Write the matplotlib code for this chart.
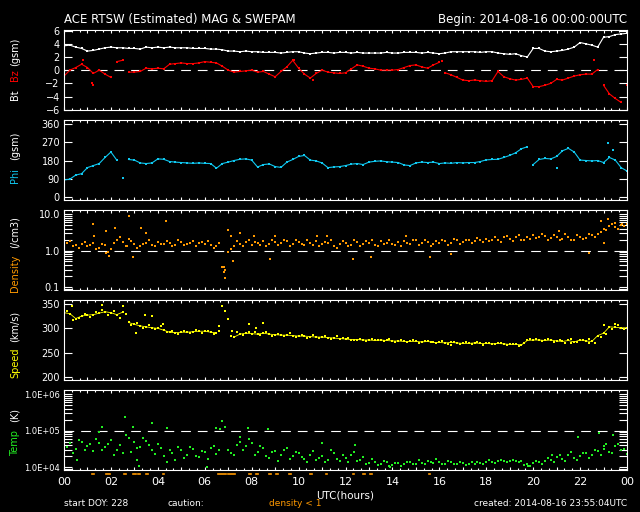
import numpy as np
import matplotlib
matplotlib.use("Agg")
import matplotlib.pyplot as plt
from matplotlib.ticker import MultipleLocator, FixedLocator, LogLocator, NullFormatter, FuncFormatter

plt.rcParams['font.family'] = ['DejaVu Sans']
plt.rcParams['lines.scale_dashes'] = False

# 15-minute samples, 00 UTC to 24 UTC, plus a second set half-way between
hours = np.arange(97) * 0.25
hours_mid = np.arange(96) * 0.25 + 0.125

bt = [3.7, 3.8, 3.5, 3.3, 2.9, 3.0, 3.2, 3.4, 3.5, 3.4, 3.4, 3.3, 3.3, 3.2, 3.5, 3.4,
      3.5, 3.4, 3.5, 3.4, 3.4, 3.4, 3.3, 3.3, 3.3, 3.2, 3.2, 3.1, 2.9, 2.9, 2.8, 2.9,
      2.8, 2.8, 2.7, 2.7, 2.7, 2.6, 2.7, 2.8, 2.8, 2.6, 2.5, 2.6, 2.7, 2.7, 2.6, 2.7,
      2.7, 2.6, 2.7, 2.6, 2.6, 2.6, 2.6, 2.7, 2.6, 2.6, 2.7, 2.7, 2.7, 2.6, 2.7, 2.6,
      2.5, 2.6, 2.8, 2.8, 2.8, 2.8, 2.8, 2.7, 2.8, 2.8, 2.6, 2.5, 2.4, 2.5, 2.2, 2.0,
      3.3, 3.3, 2.9, 2.8, 2.9, 3.0, 3.2, 3.5, 4.2, 4.0, 3.8, 3.5, 5.0, 5.1, 5.4, 5.5, 5.6]

bz = [-0.9, 0.0, 0.4, 0.9, 0.4, -0.5, 0.0, -0.6, -1.1, 1.3, 1.5, -0.3, -0.3, -0.2, 0.3, 0.2,
      0.3, 0.2, 0.9, 1.0, 1.1, 1.0, 1.0, 1.1, 1.3, 1.2, 1.1, 0.6, 0.0, -0.3, -0.2, -0.1,
      0.0, -0.3, -0.2, -0.6, -1.0, -0.2, 0.5, 1.5, 0.3, -0.6, -1.2, -0.5, 0.0, -0.3, -0.4, -0.5,
      -0.4, 0.2, 0.8, 0.6, 0.3, 0.2, 0.0, 0.0, 0.0, 0.1, 0.4, 0.7, 0.8, 0.5, 0.3, 0.8,
      1.2, -0.4, -0.7, -1.1, -1.5, -1.6, -1.5, -1.6, -1.7, -1.6, -0.2, -1.0, -1.3, -1.5, -1.4, -1.2,
      -2.5, -2.5, -2.3, -2.0, -1.4, -1.5, -1.2, -0.9, -0.7, -0.6, -0.6, 0.1, -2.3, -3.6, -4.3, -4.9, -2.2]
bz_extra_t = [0.8, 1.2, 1.25, 9.8, 22.6, 16.1, 10.6]
bz_extra_v = [1.6, -2.0, -2.2, 1.6, 1.5, 1.4, -1.5]

phi = [84, 88, 108, 115, 145, 155, 165, 195, 222, 182, 95, 185, 182, 168, 165, 168,
       188, 186, 175, 172, 170, 168, 166, 168, 166, 165, 142, 165, 172, 180, 186, 188,
       182, 148, 160, 163, 150, 146, 172, 185, 200, 205, 182, 178, 168, 145, 148, 150,
       155, 162, 165, 160, 172, 176, 178, 174, 172, 170, 158, 155, 168, 172, 170, 172,
       165, 168, 166, 170, 168, 170, 170, 175, 183, 185, 186, 195, 205, 218, 238, 248,
       160, 185, 190, 188, 200, 228, 240, 222, 182, 180, 178, 180, 170, 195, 182, 145, 128]
phi_extra_t = [23.2, 23.4, 21.0]
phi_extra_v = [265, 232, 142]

density = [2.0, 1.8, 1.4, 1.5, 1.3, 1.6, 1.2, 1.4, 1.1, 1.9, 1.7, 2.1, 1.5, 1.3, 1.6, 1.4,
           1.7, 1.5, 1.6, 1.4, 1.7, 1.5, 1.8, 1.6, 1.5, 1.4, 1.3, 0.35, 0.9, 1.3, 1.5, 1.7,
           1.4, 1.6, 1.8, 1.5, 1.7, 1.6, 1.8, 1.5, 1.7, 1.4, 1.6, 1.8, 1.5, 1.6, 1.3, 1.5,
           1.6, 1.4, 1.7, 1.5, 1.6, 1.4, 1.8, 1.6, 1.5, 1.7, 1.8, 1.5, 1.9, 1.6, 1.7, 1.5,
           1.6, 1.8, 1.6, 1.9, 1.7, 2.0, 1.8, 2.0, 2.1, 1.9, 2.0, 2.3, 2.1, 2.3, 2.0, 2.4,
           2.6, 2.3, 2.5, 2.2, 2.4, 2.1, 2.3, 2.0, 2.4, 2.2, 2.6, 2.8, 4.0, 4.8, 4.4, 5.0, 5.3]
density_mid = [1.6, 1.3, 1.2, 1.7, 1.4, 1.1, 1.5, 0.9, 1.6, 2.4, 1.3, 1.8, 1.2, 1.5, 1.9, 1.3,
               1.5, 1.8, 1.3, 1.9, 1.4, 1.6, 1.3, 1.7, 1.8, 1.2, 1.6, 0.3, 1.1, 1.8, 1.3, 1.9,
               1.7, 1.4, 1.3, 2.0, 1.4, 1.9, 1.3, 2.0, 1.5, 1.9, 1.4, 1.3, 1.7, 1.9, 1.2, 1.8,
               1.3, 1.9, 1.3, 1.8, 1.9, 1.3, 1.5, 1.9, 1.4, 1.3, 1.6, 2.0, 1.4, 1.9, 1.3, 1.8,
               1.9, 1.4, 2.1, 1.5, 1.9, 1.6, 2.2, 1.7, 1.8, 2.4, 1.7, 2.5, 1.8, 2.6, 1.9, 2.1,
               2.2, 2.8, 2.0, 2.7, 2.0, 2.8, 1.9, 2.6, 2.1, 2.9, 2.3, 3.2, 3.6, 5.5, 3.9, 4.6]
dens_extra_t = [1.25, 1.3, 1.8, 2.17, 2.78, 2.67, 2.95, 3.3, 3.5, 4.34, 1.9, 1.8, 7.0, 7.1,
                7.2, 7.5, 8.8, 6.8, 6.82, 6.85, 9.0, 8.1, 10.8, 12.3, 13.1, 15.6, 16.5, 11.2,
                14.6, 21.1, 22.4, 23.2, 22.9, 23.5, 23.8, 23.0]
dens_extra_v = [5.2, 2.45, 3.4, 4.2, 8.8, 1.3, 0.68, 4.2, 3.0, 6.4, 0.71, 0.84, 3.6, 2.45,
                0.5, 3.0, 0.57, 0.36, 0.26, 0.17, 2.55, 2.55, 2.55, 0.57, 0.68, 0.68, 0.8, 2.55,
                2.45, 3.4, 0.88, 7.4, 6.4, 5.7, 5.2, 1.6]

speed = [332, 330, 320, 325, 327, 328, 331, 334, 332, 328, 333, 312, 308, 305, 303, 301,
         300, 296, 292, 291, 292, 292, 293, 294, 294, 292, 291, 345, 320, 282, 288, 290,
         289, 288, 290, 288, 287, 286, 286, 285, 284, 284, 283, 282, 282, 281, 280, 279,
         278, 277, 277, 276, 276, 275, 276, 275, 274, 274, 273, 273, 273, 272, 273, 271,
         271, 270, 271, 270, 269, 269, 270, 269, 269, 268, 269, 268, 267, 267, 266, 275,
         276, 276, 275, 276, 274, 273, 275, 272, 276, 274, 273, 285, 290, 303, 302, 301, 301]
speed_mid = [336, 318, 322, 330, 324, 333, 338, 327, 336, 322, 330, 307, 310, 300, 306, 298,
             304, 293, 295, 289, 294, 290, 296, 291, 295, 289, 294, 335, 285, 292, 286, 293,
             292, 286, 293, 285, 289, 284, 290, 282, 287, 281, 286, 280, 285, 279, 284, 281,
             280, 275, 279, 274, 279, 277, 273, 278, 272, 276, 271, 275, 270, 274, 272, 270,
             273, 268, 272, 268, 271, 267, 271, 266, 270, 267, 270, 265, 268, 264, 270, 278,
             278, 273, 279, 272, 277, 270, 278, 271, 275, 278, 270, 282, 288, 298, 306, 299]
speed_extra_t = [0.33, 1.6, 2.5, 3.45, 3.75, 4.24, 6.6, 7.9, 8.5, 8.2, 3.07, 7.15,
                 23.0, 23.5, 16.5, 21.6, 22.4]
speed_extra_v = [345, 347, 345, 328, 325, 308, 305, 308, 311, 301, 291, 294,
                 307, 308, 266, 269, 269]

temp = [2.7e4, 4.5e4, 3.2e4, 5.0e4, 3.8e4, 2.8e4, 4.6e4, 3.5e4, 5.5e4, 3.0e4, 2.5e4, 6.5e4,
        4.8e4, 3.6e4, 5.2e4, 2.9e4, 4.2e4, 2.0e4, 3.0e4, 1.6e4, 2.9e4, 2.2e4, 3.1e4, 1.9e4,
        2.6e4, 3.3e4, 2.3e4, 1.8e5, 3.0e4, 2.2e4, 5.0e4, 3.8e4, 4.5e4, 2.6e4, 3.3e4, 1.8e4,
        2.8e4, 2.2e4, 3.4e4, 2.0e4, 2.5e4, 1.7e4, 2.1e4, 1.6e4, 2.0e4, 1.6e4, 2.4e4, 1.5e4,
        1.8e4, 2.2e4, 1.5e4, 1.9e4, 1.3e4, 1.4e4, 1.25e4, 1.35e4, 1.15e4, 1.3e4, 1.2e4, 1.4e4,
        1.2e4, 1.3e4, 1.5e4, 1.3e4, 1.4e4, 1.25e4, 1.35e4, 1.2e4, 1.3e4, 1.2e4, 1.25e4, 1.3e4,
        1.35e4, 1.4e4, 1.45e4, 1.5e4, 1.5e4, 1.45e4, 1.5e4, 1.2e4, 1.3e4, 1.4e4, 1.5e4, 1.6e4,
        1.9e4, 1.7e4, 2.2e4, 1.8e4, 2.0e4, 2.4e4, 2.1e4, 2.8e4, 3.2e4, 2.6e4, 3.7e4, 2.9e4, 2.3e4]
temp_mid = [3.5e4, 2.4e4, 5.5e4, 2.9e4, 4.2e4, 6.0e4, 3.0e4, 4.4e4, 2.2e4, 4.0e4, 7.5e4, 2.6e4,
            3.4e4, 6.2e4, 4.0e4, 2.3e4, 3.4e4, 1.4e4, 2.5e4, 3.6e4, 1.8e4, 3.5e4, 2.0e4, 2.8e4,
            1.7e4, 3.8e4, 2.9e4, 1.3e5, 2.5e4, 4.0e4, 2.9e4, 6.0e4, 2.2e4, 3.8e4, 2.0e4, 2.6e4,
            1.5e4, 3.0e4, 1.7e4, 2.6e4, 1.9e4, 1.4e4, 2.7e4, 1.8e4, 1.4e4, 2.9e4, 1.7e4, 2.1e4,
            1.4e4, 2.6e4, 1.6e4, 1.2e4, 1.7e4, 1.15e4, 1.5e4, 1.1e4, 1.3e4, 1.1e4, 1.4e4, 1.25e4,
            1.6e4, 1.2e4, 1.4e4, 1.7e4, 1.2e4, 1.5e4, 1.25e4, 1.4e4, 1.15e4, 1.35e4, 1.4e4, 1.25e4,
            1.55e4, 1.3e4, 1.6e4, 1.4e4, 1.6e4, 1.35e4, 1.15e4, 1.1e4, 1.5e4, 1.25e4, 1.8e4, 1.4e4,
            2.2e4, 1.5e4, 2.6e4, 1.6e4, 2.5e4, 1.8e4, 3.0e4, 2.2e4, 4.2e4, 2.4e4, 4.4e4, 3.1e4]
temp_extra_t = [1.5, 2.6, 2.95, 1.6, 3.74, 4.4, 7.85, 8.7, 7.5, 3.1, 3.2, 0.54, 6.1, 6.5,
                6.65, 21.9, 22.8, 23.4, 23.0, 12.4, 11.0, 19.8, 20.8, 13.9]
temp_extra_v = [9e4, 2.4e5, 1.28e5, 1.23e5, 1.6e5, 1.15e5, 1.15e5, 1.1e5, 6.9e4, 1.6e4, 1.05e4,
                1.6e4, 1.0e4, 1.15e5, 1.1e5, 6.6e4, 8.4e4, 7.6e4, 3.7e4, 4.1e4, 4.5e4, 1.05e4,
                2.2e4, 1.0e4]

# periods flagged "density < 1"
caution_start = [1.2, 1.8, 2.55, 2.95, 3.15, 3.5, 4.2, 6.55, 7.0, 7.9, 8.2, 8.75, 9.05, 9.6,
                 10.5, 11.15, 12.3, 12.75, 13.05, 15.55]
caution_end = [1.3, 1.95, 2.65, 3.05, 3.25, 3.6, 4.27, 6.9, 7.3, 7.97, 8.27, 8.82, 9.12, 9.67,
               10.57, 11.22, 12.37, 12.82, 13.12, 15.6]

xticklabels = ['00', '02', '04', '06', '08', '10', '12', '14', '16', '18', '20', '22', '00']

W, H = 640, 512
fig = plt.figure(figsize=(6.4, 5.12), dpi=100, facecolor='black')


def fx(x):
    return x / W


def fy(y):
    return 1 - y / H


def broken(t, v, lim):
    xs, ys = [], []
    for i in range(len(v)):
        if i > 0 and abs(v[i] - v[i - 1]) > lim:
            xs.append(np.nan)
            ys.append(np.nan)
        xs.append(t[i])
        ys.append(v[i])
    return xs, ys


def dots(ax, t, v, col):
    ax.plot(t, v, ls='none', color=col, marker='s', ms=1.6, mew=0)


axes = []
for top in [30, 120, 210, 300, 390]:
    ax = fig.add_axes([fx(64), fy(top + 80), fx(563), 80 / H])
    ax.set_facecolor('black')
    for s in ax.spines.values():
        s.set_color('white')
        s.set_linewidth(0.8)
    ax.set_xlim(0, 24)
    ax.xaxis.set_major_locator(MultipleLocator(1))
    ax.xaxis.set_minor_locator(MultipleLocator(1 / 3))
    ax.tick_params(axis='x', which='both', direction='in', top=True, bottom=True,
                   colors='white', labelbottom=False)
    ax.tick_params(axis='x', which='major', length=2.2, width=0.8)
    ax.tick_params(axis='x', which='minor', length=1.2, width=0.8)
    ax.tick_params(axis='y', which='both', direction='in', left=True, right=True,
                   colors='white', length=5.8, width=0.8, labelsize=7, pad=3)
    axes.append(ax)

ax1, ax2, ax3, ax4, ax5 = axes
red, cyan, orange, yellow, green = '#ff0000', '#10c8f0', '#ff9900', '#ffff00', '#22ee22'

# Bt / Bz
ax1.set_ylim(-6.05, 6.1)
ax1.yaxis.set_major_locator(FixedLocator([-6, -4, -2, 0, 2, 4, 6]))
ax1.axhline(0, color='white', lw=0.8, dashes=(7, 5))
ax1.plot(hours, bt, color='white', lw=0.8, marker='s', ms=1.6, mew=0)
x, y = broken(hours, bz, 1.5)
ax1.plot(x, y, color=red, lw=0.8, marker='s', ms=1.6, mew=0)
dots(ax1, bz_extra_t, bz_extra_v, red)

# Phi
ax2.set_ylim(-15, 380)
ax2.yaxis.set_major_locator(FixedLocator([0, 90, 180, 270, 360]))
x, y = broken(hours, phi, 50)
ax2.plot(x, y, color=cyan, lw=0.8, marker='s', ms=1.6, mew=0)
dots(ax2, phi_extra_t, phi_extra_v, cyan)

# Density
ax3.set_yscale('log')
ax3.set_ylim(0.082, 13)
ax3.yaxis.set_major_locator(FixedLocator([0.1, 1.0, 10.0]))
ax3.yaxis.set_major_formatter(FuncFormatter(lambda v, p: '%.1f' % v))
ax3.yaxis.set_minor_locator(LogLocator(base=10, subs=np.arange(2, 10)))
ax3.yaxis.set_minor_formatter(NullFormatter())
ax3.axhline(1.0, color='white', lw=0.8, dashes=(7, 5))
dots(ax3, hours, density, orange)
dots(ax3, hours_mid, density_mid, orange)
dots(ax3, dens_extra_t, dens_extra_v, orange)

# Speed
ax4.set_ylim(194, 358)
ax4.yaxis.set_major_locator(FixedLocator([200, 250, 300, 350]))
x, y = broken(hours, speed, 20)
ax4.plot(x, y, color=yellow, lw=0.6, marker='s', ms=1.6, mew=0)
dots(ax4, hours_mid, speed_mid, yellow)
dots(ax4, speed_extra_t, speed_extra_v, yellow)

# Temperature
ax5.set_yscale('log')
ax5.set_ylim(8.4e3, 1.3e6)
ax5.yaxis.set_major_locator(FixedLocator([1e4, 1e5, 1e6]))
ax5.yaxis.set_major_formatter(FuncFormatter(lambda v, p: '1.0E+%02d' % round(np.log10(v))))
ax5.yaxis.set_minor_locator(LogLocator(base=10, subs=np.arange(2, 10)))
ax5.yaxis.set_minor_formatter(NullFormatter())
ax5.tick_params(axis='y', labelsize=6)
ax5.axhline(1e5, color='white', lw=0.8, dashes=(7, 5))
dots(ax5, hours, temp, green)
dots(ax5, hours_mid, temp_mid, green)
dots(ax5, temp_extra_t, temp_extra_v, green)

ax5.tick_params(axis='x', labelbottom=True, labelsize=8, pad=5)
ax5.xaxis.set_major_formatter(FuncFormatter(
    lambda v, p: xticklabels[int(round(v)) // 2] if int(round(v)) % 2 == 0 else ''))

for a, b in zip(caution_start, caution_end):
    ax5.plot([a, b], [-0.05, -0.05], color=orange, lw=1.2,
             transform=ax5.get_xaxis_transform(), clip_on=False)

# y-axis labels, written word by word so each can have its own colour
ylab = [('Bt', 'white', 100), ('Bz', red, 81), ('(gsm)', 'white', 66),
        ('Phi', cyan, 183), ('(gsm)', 'white', 160),
        ('Density', orange, 292), ('(/cm3)', 'white', 248),
        ('Speed', yellow, 378), ('(km/s)', 'white', 342),
        ('Temp', green, 456), ('(K)', 'white', 422)]
for word, col, ystart in ylab:
    fig.text(fx(15), fy(ystart), word, color=col, fontsize=7, rotation=90,
             rotation_mode='anchor', ha='left', va='center')

fig.text(fx(64), fy(20), 'ACE RTSW (Estimated) MAG & SWEPAM', color='white',
         fontsize=8.5, ha='left', va='center')
fig.text(fx(627), fy(20), 'Begin: 2014-08-16 00:00:00UTC', color='white',
         fontsize=8.5, ha='right', va='center')
fig.text(fx(345), fy(496), 'UTC(hours)', color='white', fontsize=7.5, ha='center', va='center')
fig.text(fx(64), fy(504), 'start DOY: 228', color='white', fontsize=6.5, ha='left', va='center')
fig.text(fx(167), fy(504), 'caution:', color='white', fontsize=6.5, ha='left', va='center')
fig.text(fx(269), fy(504), 'density < 1', color=orange, fontsize=6.5, ha='left', va='center')
fig.text(fx(627), fy(504), 'created: 2014-08-16 23:55:04UTC', color='white', fontsize=6.5,
         ha='right', va='center')

fig.savefig('out.png', dpi=100, facecolor='black')
